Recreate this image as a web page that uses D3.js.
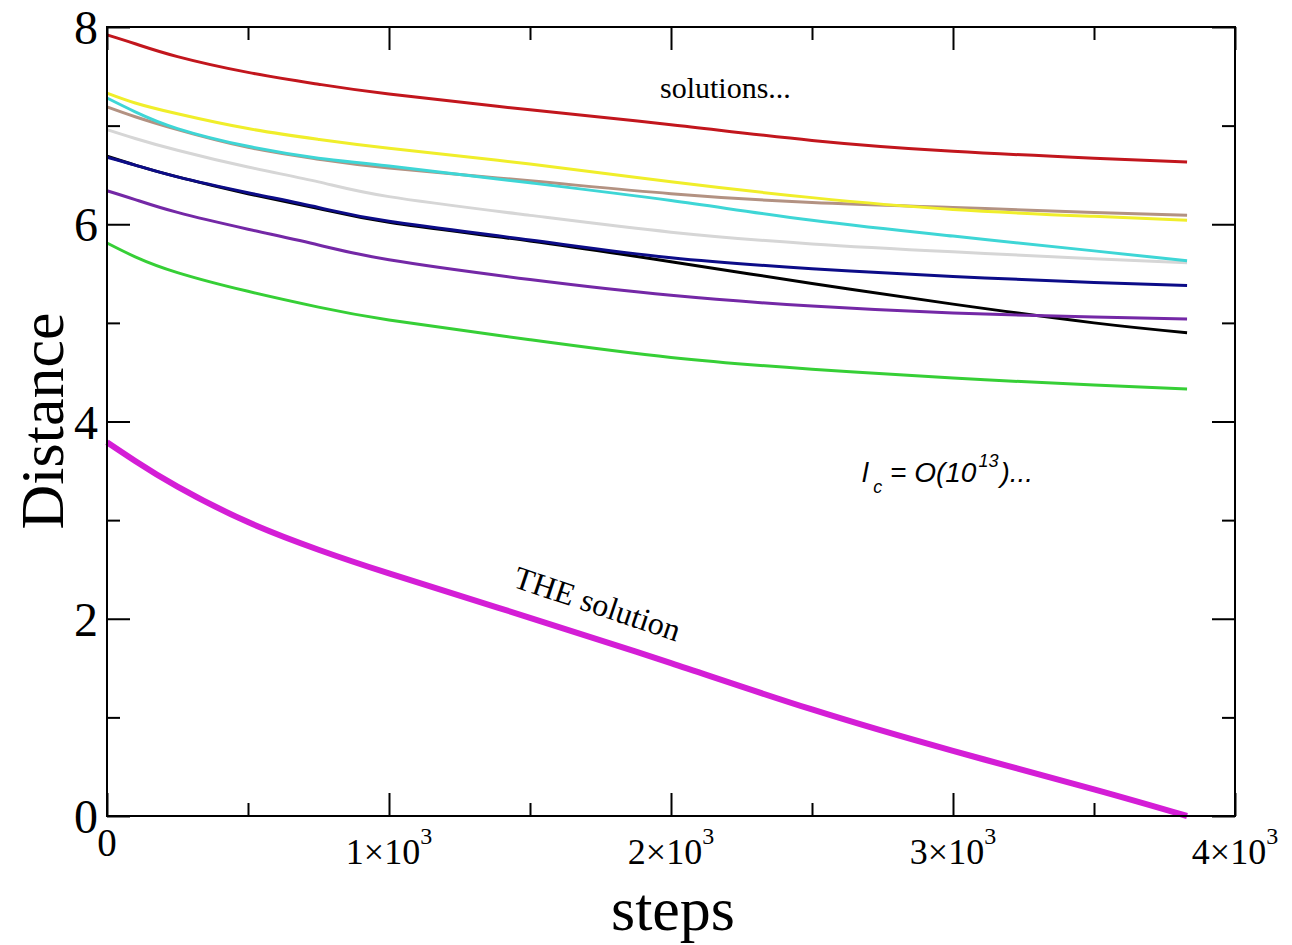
<!DOCTYPE html>
<html>
<head>
<meta charset="utf-8">
<script src="https://cdn.jsdelivr.net/npm/d3@7"></script>
<style>
  body { margin: 0; background: #fff; }
  text { fill: #000; }
</style>
</head>
<body>
<svg width="1292" height="945"></svg>
<script>
// sample points along the run (steps)
var steps = [0, 100, 250, 500, 750, 1000, 1500, 2000, 2500, 3000, 3500, 3830];

// distance of every candidate
var redVals     = [7.92, 7.83, 7.70, 7.54, 7.42, 7.32, 7.16, 7.01, 6.85, 6.74, 6.67, 6.63];
var greyVals    = [6.96, 6.87, 6.75, 6.58, 6.43, 6.28, 6.09, 5.92, 5.80, 5.72, 5.65, 5.61];
var brownVals   = [7.19, 7.09, 6.96, 6.78, 6.66, 6.57, 6.44, 6.31, 6.22, 6.17, 6.12, 6.09];
var yellowVals  = [7.33, 7.23, 7.12, 6.97, 6.86, 6.77, 6.61, 6.43, 6.27, 6.15, 6.08, 6.04];
var cyanVals    = [7.28, 7.14, 6.97, 6.79, 6.67, 6.59, 6.42, 6.24, 6.04, 5.88, 5.73, 5.63];
var blackVals   = [6.69, 6.60, 6.48, 6.31, 6.16, 6.02, 5.83, 5.62, 5.40, 5.19, 5.00, 4.90];
var navyVals    = [6.68, 6.60, 6.48, 6.32, 6.17, 6.03, 5.84, 5.66, 5.55, 5.47, 5.41, 5.38];
var purpleVals  = [6.34, 6.25, 6.12, 5.95, 5.79, 5.64, 5.44, 5.28, 5.17, 5.10, 5.06, 5.04];
var greenVals   = [5.81, 5.67, 5.51, 5.32, 5.16, 5.03, 4.83, 4.65, 4.53, 4.44, 4.37, 4.33];
var magentaVals = [3.79, 3.60, 3.34, 2.98, 2.70, 2.46, 2.01, 1.55, 1.08, 0.66, 0.27, 0.00];

var xMajor = [0, 1000, 2000, 3000, 4000];
var xMinor = [500, 1500, 2500, 3500];
var xMantissa = ["0", "1", "2", "3", "4"];
var yMajor = [0, 2, 4, 6, 8];
var yMinor = [1, 3, 5, 7];

var svg = d3.select("svg");

var x = d3.scaleLinear().domain([0, 4000]).range([107, 1235]);
var y = d3.scaleLinear().domain([0, 8]).range([816, 27]);

var series = [
  {vals: redVals,     color: "#c2161d", w: 3},
  {vals: greyVals,    color: "#d6d6d6", w: 3},
  {vals: brownVals,   color: "#b39282", w: 3},
  {vals: yellowVals,  color: "#f0ee2a", w: 3},
  {vals: cyanVals,    color: "#3ed6d6", w: 3},
  {vals: blackVals,   color: "#000000", w: 3},
  {vals: navyVals,    color: "#0c0c88", w: 3},
  {vals: purpleVals,  color: "#7428a6", w: 3},
  {vals: greenVals,   color: "#36cf36", w: 3},
  {vals: magentaVals, color: "#d41ed6", w: 6}
];

var line = d3.line()
    .x(function(d, i) { return x(steps[i]); })
    .y(function(d) { return y(d); })
    .curve(d3.curveNatural);

svg.append("g")
  .selectAll("path")
  .data(series)
  .enter().append("path")
    .attr("fill", "none")
    .attr("stroke", function(d) { return d.color; })
    .attr("stroke-width", function(d) { return d.w; })
    .attr("stroke-linejoin", "round")
    .attr("d", function(d) { return line(d.vals); });

// axes, ticks pointing inward on all four sides
function styleAxis(g) {
  g.select(".domain").remove();
  g.selectAll("line").attr("stroke", "#000").attr("stroke-width", 2);
}

svg.append("g").attr("transform", "translate(0,816)")
  .call(d3.axisBottom(x).tickValues(xMajor).tickSize(-23).tickFormat("")).call(styleAxis);
svg.append("g").attr("transform", "translate(0,816)")
  .call(d3.axisBottom(x).tickValues(xMinor).tickSize(-13).tickFormat("")).call(styleAxis);
svg.append("g").attr("transform", "translate(0,27)")
  .call(d3.axisTop(x).tickValues(xMajor).tickSize(-23).tickFormat("")).call(styleAxis);
svg.append("g").attr("transform", "translate(0,27)")
  .call(d3.axisTop(x).tickValues(xMinor).tickSize(-13).tickFormat("")).call(styleAxis);
svg.append("g").attr("transform", "translate(107,0)")
  .call(d3.axisLeft(y).tickValues(yMajor).tickSize(-23).tickFormat("")).call(styleAxis);
svg.append("g").attr("transform", "translate(107,0)")
  .call(d3.axisLeft(y).tickValues(yMinor).tickSize(-13).tickFormat("")).call(styleAxis);
svg.append("g").attr("transform", "translate(1235,0)")
  .call(d3.axisRight(y).tickValues(yMajor).tickSize(-23).tickFormat("")).call(styleAxis);
svg.append("g").attr("transform", "translate(1235,0)")
  .call(d3.axisRight(y).tickValues(yMinor).tickSize(-13).tickFormat("")).call(styleAxis);

svg.append("rect")
    .attr("x", x(0)).attr("y", y(8))
    .attr("width", x(4000) - x(0)).attr("height", y(0) - y(8))
    .attr("fill", "none").attr("stroke", "#000").attr("stroke-width", 2);

var serif = "'Liberation Serif', 'Times New Roman', serif";

// y tick labels
svg.append("g")
  .selectAll("text")
  .data(yMajor)
  .enter().append("text")
    .attr("x", 98)
    .attr("y", function(d) { return y(d) + 17; })
    .attr("text-anchor", "end")
    .attr("font-family", serif)
    .attr("font-size", 48)
    .text(function(d) { return d; });

// x tick labels with powers of ten
var xl = svg.append("g")
  .selectAll("text")
  .data(xMajor)
  .enter().append("text")
    .attr("x", function(d) { return x(d); })
    .attr("y", function(d) { return d === 0 ? 856 : 864; })
    .attr("text-anchor", "middle")
    .attr("font-family", serif)
    .attr("font-size", function(d) { return d === 0 ? 39 : 36; });

xl.each(function(d, i) {
  var t = d3.select(this);
  if (d === 0) { t.text(xMantissa[i]); return; }
  t.append("tspan").text(xMantissa[i] + "\u00d710");
  t.append("tspan").attr("font-size", 24).attr("dy", -20).text("3");
});

// axis titles
svg.append("text")
    .attr("transform", "translate(63,421) rotate(-90)")
    .attr("text-anchor", "middle")
    .attr("font-family", serif)
    .attr("font-size", 62)
    .text("Distance");

svg.append("text")
    .attr("x", 673).attr("y", 930)
    .attr("text-anchor", "middle")
    .attr("font-family", serif)
    .attr("font-size", 62)
    .text("steps");

// annotations
svg.append("text")
    .attr("x", 660).attr("y", 98)
    .attr("font-family", serif)
    .attr("font-size", 30)
    .text("solutions...");

svg.append("text")
    .attr("transform", "translate(594,614) rotate(18.5)")
    .attr("text-anchor", "middle")
    .attr("font-family", serif)
    .attr("font-size", 32)
    .text("THE solution");

var lc = svg.append("text")
    .attr("x", 862).attr("y", 482)
    .attr("font-family", "'Liberation Sans', Arial, sans-serif")
    .attr("font-style", "italic")
    .attr("font-size", 28);
lc.append("tspan").text("l");
lc.append("tspan").attr("font-size", 18).attr("dx", 5).attr("dy", 11).text("c");
lc.append("tspan").attr("dy", -11).text(" = O(10");
lc.append("tspan").attr("font-size", 18).attr("dx", 2).attr("dy", -15).text("13");
lc.append("tspan").attr("dx", 2).attr("dy", 15).text(")...");
</script>
</body>
</html>
